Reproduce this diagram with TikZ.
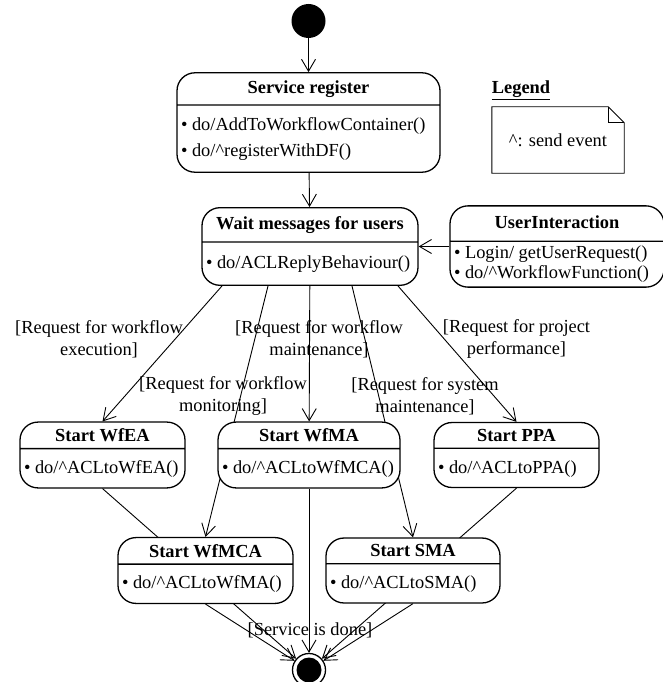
\documentclass[tikz,border=0pt]{standalone}
\usepackage{fontspec}
\setmainfont{Liberation Serif}
\usetikzlibrary{arrows.meta,positioning,shapes.multipart,backgrounds}
\tikzset{
  uml/state/.style={draw=black, line width=1.3pt, fill=white, rounded corners=18pt,
    rectangle split, rectangle split parts=2, rectangle split part align={center,left},
    align=left, font=\fontsize{18.4}{26}\selectfont, inner xsep=4pt, inner ysep=6pt},
  uml/small/.style={uml/state, minimum height=66pt},
  uml/initial/.style={circle, fill=black, minimum size=34pt, inner sep=0pt},
  uml/final/.style={circle, draw=black, line width=1.3pt, minimum size=33pt, inner sep=0pt,
    path picture={\fill[black] (path picture bounding box.center) circle (12.5pt);}},
  uml/trans/.style={-{Straight Barb[length=12pt,width=14pt]}, line width=0.9pt},
  uml/guard/.style={font=\fontsize{18.4}{22}\selectfont, align=center},
  uml/heading/.style={font=\fontsize{18.4}{22}\selectfont\bfseries},
  uml/note/.style={minimum width=132pt, minimum height=66pt, inner sep=0pt,
    font=\fontsize{18.4}{22}\selectfont},
  uml/noteline/.style={draw=black, line width=0.9pt},
}

\begin{document}
\begin{tikzpicture}[x=1pt, y=-1pt]
\useasboundingbox (0,0) rectangle (662,682);

\node[uml/initial] (init) at (308.5,21) {};
\node[uml/state, minimum width=263pt, minimum height=99pt, inner ysep=7pt] (service) at (308.5,122.5)
  {\textbf{Service register}
   \nodepart{two}\strut\textbullet{} do/AddToWorkflowContainer()\\
   \strut\textbullet{} do/\textasciicircum registerWithDF()};
\node[uml/state, minimum width=216pt, minimum height=83pt, inner ysep=8pt] (wait) at (310,246.5)
  {\textbf{Wait messages for users}
   \nodepart{two}\strut\textbullet{} do/ACLReplyBehaviour()};
\node[uml/state, minimum width=214pt, minimum height=83pt, inner ysep=4pt] (user) at (557,246.5)
  {\textbf{UserInteraction}\strut
   \nodepart{two}\textbullet{} Login/ getUserRequest()\\[-6pt]
   \textbullet{} do/\textasciicircum WorkflowFunction()};

\node[uml/small, minimum width=182pt] (wfma) at (309,455)
  {\textbf{Start WfMA}\nodepart{two}\strut\textbullet{} do/\textasciicircum ACLtoWfMCA()};
\node[uml/small, minimum width=165pt] (wfea) at (102.5,455)
  {\textbf{Start WfEA}\nodepart{two}\strut\textbullet{} do/\textasciicircum ACLtoWfEA()};
\node[uml/small, minimum width=165pt] (ppa) at (516.5,455)
  {\textbf{Start PPA}\nodepart{two}\strut\textbullet{} do/\textasciicircum ACLtoPPA()};
\node[uml/small, minimum width=175pt, minimum height=67pt] (wfmca) at (205.5,570.5)
  {\textbf{Start WfMCA}\nodepart{two}\strut\textbullet{} do/\textasciicircum ACLtoWfMA()};
\node[uml/small, minimum width=174pt, minimum height=67pt] (sma) at (413,570.5)
  {\textbf{Start SMA}\nodepart{two}\strut\textbullet{} do/\textasciicircum ACLtoSMA()};

\node[uml/final] (final) at (309,670) {};

% guards
\node[uml/guard] (gExec) at (99,339) {[Request for workflow\\execution]};
\node[uml/guard] (gMon) at (223,396.5) {[Request for workflow\\monitoring]};
\node[uml/guard] (gMaint) at (319,339) {[Request for workflow\\maintenance]};
\node[uml/guard] (gSys) at (425,396.5) {[Request for system\\maintenance]};
\node[uml/guard] (gProj) at (516.5,339) {[Request for project\\performance]};
\node[uml/guard] (gDone) at (310,630) {[Service is done]};

% legend
\node[uml/heading] (legendTitle) at (521,90) {\underline{Legend}};
\node[uml/note] (note) at (558,140) {\textasciicircum: send event};
\draw[uml/noteline] (note.north west) -- ([xshift=-16pt]note.north east)
  -- ([yshift=-16pt]note.north east) -- (note.south east) -- (note.south west) -- cycle;
\draw[uml/noteline] ([xshift=-16pt]note.north east) |- ([yshift=-16pt]note.north east);

\begin{scope}[on background layer]
\draw[uml/trans] (init) -- (service);
\draw[uml/trans] (service) -- (wait);
\draw[uml/trans] (user) -- (wait);
\draw[uml/trans] ([xshift=-88pt]wait.south) -- (wfea.north);
\draw[uml/trans] ([xshift=-42pt]wait.south) -- (wfmca.north);
\draw[uml/trans] (wait) -- (wfma);
\draw[uml/trans] ([xshift=42pt]wait.south) -- (sma.north);
\draw[uml/trans] ([xshift=88pt]wait.south) -- (ppa.north);
\draw[uml/trans] (wfea.south) -- (final);
\draw[uml/trans] (wfmca.south) -- (final);
\draw[uml/trans] (wfma) -- (final);
\draw[uml/trans] (sma.south) -- (final);
\draw[uml/trans] (ppa.south) -- (final);
\end{scope}
\end{tikzpicture}
\end{document}
